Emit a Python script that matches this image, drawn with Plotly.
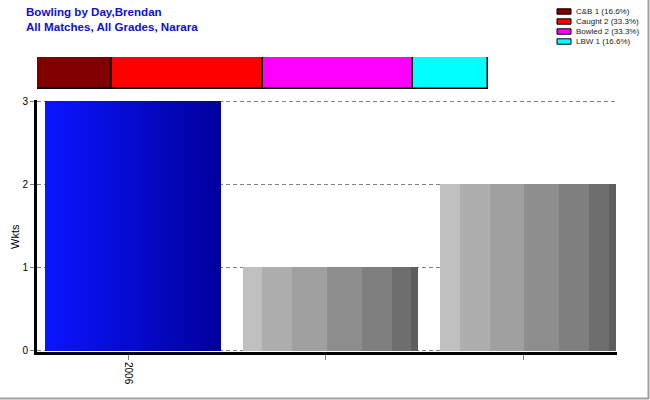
import numpy as np
import plotly.graph_objects as go

# ---- data ----
categories = ["2006", "", ""]
wickets = [3, 1, 2]
dismissal_names = ["C&B", "Caught", "Bowled", "LBW"]
dismissal_counts = [1, 2, 2, 1]
y_ticks = [0, 1, 2, 3]
title_lines = ["Bowling by Day,Brendan", "All Matches, All Grades, Narara"]

# ---- style ----
dismissal_colors = ["#800000", "#FF0000", "#FF00FF", "#00FFFF"]
gray_bands = ["#C0C0C0", "#AEAEAE", "#A0A0A0", "#8E8E8E", "#7F7F7F", "#6E6E6E", "#5E5E5E"]
gray_fracs = np.array([20, 30, 35, 35, 30, 20, 7], dtype=float)
BAR_OFF, BAR_W = -0.42, 0.89
FONT = "Arial, Liberation Sans, sans-serif"

W, H = 650, 400
ML, MR, MT, MB = 37, 33, 57, 48
PW, PH = W - ML - MR, H - MT - MB


def px(x):
    return (x - ML) / PW


def py(y):
    return (H - MB - y) / PH


main_top = py(100)

fig = go.Figure()
xpos = np.arange(len(categories))

# blue gradient for first bar
n_blue = 28
bw = BAR_W / n_blue
for i in range(n_blue):
    t = i / (n_blue - 1)
    r = int(round(10 * (1 - t)))
    g = int(round(20 * (1 - t)))
    b = int(round(255 - t * (255 - 158)))
    fig.add_trace(go.Bar(
        x=[xpos[0]], y=[wickets[0]], offset=BAR_OFF + i * bw,
        width=bw * (1.3 if i < n_blue - 1 else 1.0),
        marker=dict(color=f"rgb({r},{g},{b})", line=dict(width=0)),
        showlegend=False, hoverinfo="skip", xaxis="x", yaxis="y"))

# gray banded bars
fr = gray_fracs / gray_fracs.sum() * BAR_W
starts = np.concatenate([[0], np.cumsum(fr)[:-1]])
for i, c in enumerate(gray_bands):
    fig.add_trace(go.Bar(
        x=list(xpos[1:]), y=wickets[1:], offset=BAR_OFF + starts[i],
        width=fr[i] * (1.05 if i < len(gray_bands) - 1 else 1.0),
        marker=dict(color=c, line=dict(width=0)),
        showlegend=False, hoverinfo="skip", xaxis="x", yaxis="y"))

# proportion strip on top
bases = np.concatenate([[0], np.cumsum(dismissal_counts)[:-1]])
for name, cnt, base, col in zip(dismissal_names, dismissal_counts, bases, dismissal_colors):
    fig.add_trace(go.Bar(
        x=[cnt], y=[0], base=[base], orientation="h", width=1,
        marker=dict(color=col, line=dict(color="black", width=1.5)),
        showlegend=False, hoverinfo="skip", xaxis="x2", yaxis="y2"))

# x range so that ticks land at the reference positions
scale = 197.5
x0 = -(128 - ML) / scale
x1 = (ML + PW - 128) / scale

fig.update_layout(
    width=W, height=H, margin=dict(l=ML, r=MR, t=MT, b=MB),
    paper_bgcolor="white", plot_bgcolor="white",
    barmode="overlay", bargap=0,
    font=dict(family=FONT, size=10, color="black"),
    xaxis=dict(domain=[0, 1], range=[x0, x1], tickvals=list(xpos), ticktext=categories,
               tickangle=90, ticks="outside", ticklen=5, tickcolor="#808080",
               showline=True, linecolor="black", linewidth=3, showgrid=False,
               zeroline=False, anchor="y", tickfont=dict(size=10, color="black")),
    yaxis=dict(domain=[0, main_top], range=[-0.018, 3.015], tickvals=y_ticks,
               ticks="outside", ticklen=4, tickcolor="#808080",
               showline=True, linecolor="black", linewidth=3,
               showgrid=True, gridcolor="#808080", griddash="4px,3px", gridwidth=1,
               zeroline=False, anchor="x", tickfont=dict(size=10, color="black")),
    xaxis2=dict(domain=[0, px(488)], range=[0, sum(dismissal_counts)], visible=False, anchor="y2"),
    yaxis2=dict(domain=[py(89), py(57)], range=[-0.5, 0.5], visible=False, anchor="x2"),
    showlegend=False,
)

ann = []
shapes = []
# titles
for i, line in enumerate(title_lines):
    ann.append(dict(text=f"<b>{line}</b>", x=px(24), y=py(11 + 15 * i), xref="paper", yref="paper",
                    xanchor="left", yanchor="middle", showarrow=False,
                    font=dict(family=FONT, size=11.6, color="#1010D0")))
# y title
ann.append(dict(text="Wkts", x=px(15), y=py(237), xref="paper", yref="paper", textangle=-90,
                showarrow=False, xanchor="center", yanchor="middle",
                font=dict(family=FONT, size=11, color="black")))
# custom legend
total = sum(dismissal_counts)
for i, (name, cnt, col) in enumerate(zip(dismissal_names, dismissal_counts, dismissal_colors)):
    pct = np.floor(cnt / total * 1000) / 10
    yc = 11.5 + 10 * i
    shapes.append(dict(type="rect", xref="paper", yref="paper",
                       x0=px(557), x1=px(571), y0=py(yc - 2.7), y1=py(yc + 2.7),
                       fillcolor=col, line=dict(color="black", width=1)))
    ann.append(dict(text=f"{name} {cnt} ({pct:.1f}%)", x=px(574), y=py(yc), xref="paper", yref="paper",
                    xanchor="left", yanchor="middle", showarrow=False,
                    font=dict(family=FONT, size=8, color="#222222")))
# frame (right/bottom)
shapes.append(dict(type="line", xref="paper", yref="paper", x0=px(648.5), x1=px(648.5),
                   y0=py(0), y1=py(399), line=dict(color="#A0A0A0", width=2)))
shapes.append(dict(type="line", xref="paper", yref="paper", x0=px(0), x1=px(649),
                   y0=py(398.5), y1=py(398.5), line=dict(color="#A0A0A0", width=2)))
fig.update_layout(annotations=ann, shapes=shapes)

fig.write_html("out.html", config={"displayModeBar": False},
               post_script="document.body.style.margin='0';document.body.style.padding='0';"
                           "document.body.style.overflow='hidden';")
